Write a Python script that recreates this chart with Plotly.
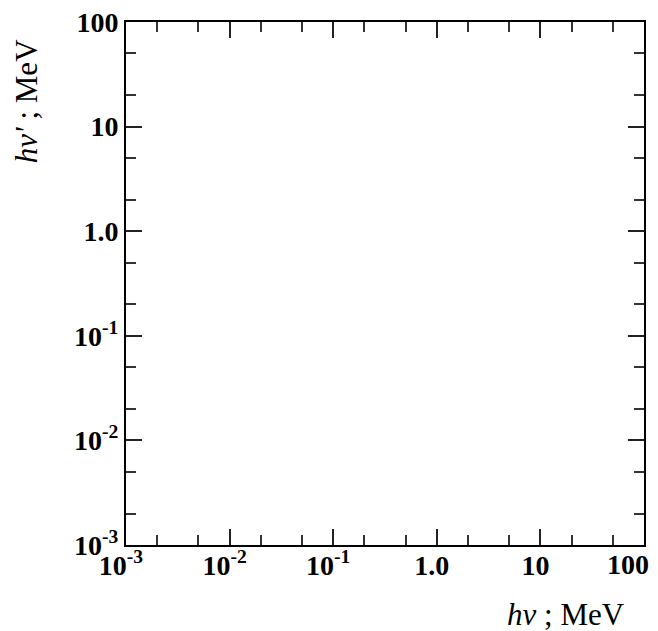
import plotly.graph_objects as go

# Axis data (empty chart: only axes)
x_range_exp = [-3, 2]
y_range_exp = [-3, 2]
tick_vals = [1e-3, 1e-2, 1e-1, 1.0, 10, 100]
tick_text = ["10<sup>-3</sup>", "10<sup>-2</sup>", "10<sup>-1</sup>", "1.0", "10", "100"]
x_title = "<i>hν</i> ; MeV"
y_title = "<i>hν'</i> ; MeV"

FONT = "Liberation Serif, Times New Roman, serif"
TICKFONT = dict(family=FONT, size=28, color="black", weight="bold")

fig = go.Figure()
fig.add_trace(go.Scatter(x=[], y=[], mode="lines", showlegend=False))

axis_common = dict(
    type="log",
    tickvals=tick_vals,
    ticks="inside",
    ticklen=16,
    tickwidth=1.5,
    tickcolor="#222",
    showline=True,
    linewidth=2,
    linecolor="black",
    mirror="allticks",
    showgrid=False,
    zeroline=False,
    automargin=False,
    ticklabeloverflow="allow",
    tickfont=TICKFONT,
    minor=dict(ticks="inside", ticklen=10, tickwidth=1.5, tickcolor="#333",
               dtick="D2", showgrid=False),
)

# last x label is drawn right-aligned at the axis end (so it stays inside the page)
x_tick_text = tick_text[:-1] + [""]
fig.update_xaxes(range=x_range_exp, ticktext=x_tick_text, ticklabelstandoff=-6,
                 ticklabelshift=-5, **axis_common)
fig.update_yaxes(range=y_range_exp, ticktext=tick_text, **axis_common)

fig.add_annotation(text=tick_text[-1], xref="x", yref="paper", x=x_range_exp[1], y=0,
                   xanchor="right", yanchor="top", xshift=7, yshift=-2,
                   showarrow=False, font=TICKFONT)

fig.add_annotation(text=x_title, xref="paper", yref="paper", x=0.967, y=-0.132,
                   xanchor="right", yanchor="middle", showarrow=False,
                   font=dict(family=FONT, size=31, color="black"))
fig.add_annotation(text=y_title, xref="paper", yref="paper", x=-0.193, y=0.971,
                   xanchor="center", yanchor="top", showarrow=False, textangle=-90,
                   font=dict(family=FONT, size=31, color="black"))

fig.update_layout(
    width=650, height=623,
    margin=dict(l=118, r=14, t=14, b=86),
    plot_bgcolor="white", paper_bgcolor="white",
)

fig.write_html("out.html")
